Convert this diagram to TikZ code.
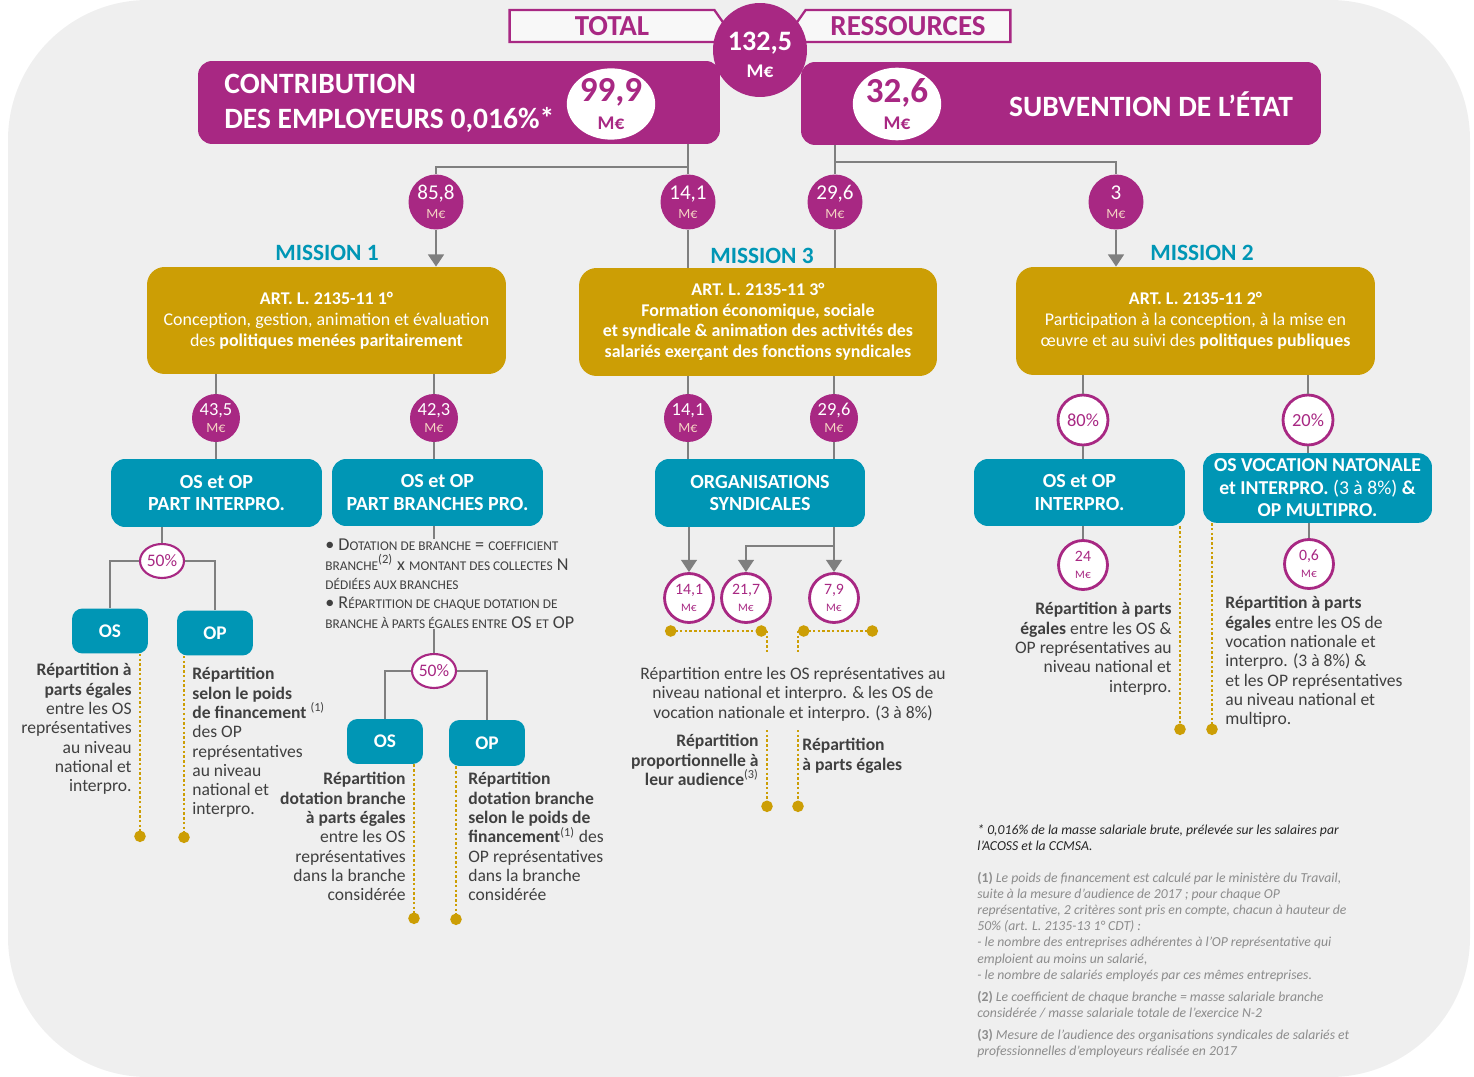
\documentclass[tikz,border=0pt]{standalone}
\usepackage{fontspec}
\setmainfont{Carlito}
\usetikzlibrary{arrows.meta,shapes.geometric,shapes.symbols}

\definecolor{violetM}{RGB}{168,40,131}
\definecolor{goldM}{RGB}{204,158,5}
\definecolor{tealM}{RGB}{0,150,181}
\definecolor{lineG}{RGB}{127,127,127}
\definecolor{textG}{RGB}{64,64,64}
\definecolor{noteG}{RGB}{140,140,140}
\definecolor{noteD}{RGB}{38,38,38}
\definecolor{peachM}{RGB}{245,212,195}
\definecolor{bgG}{RGB}{239,239,239}

\newcommand{\mef}[1]{#1\\{\color{peachM}\fontsize{8}{8}\selectfont M€}}
\newcommand{\mer}[1]{#1\\{\fontsize{6.5}{6.5}\selectfont M€}}
\newcommand{\sct}[1]{{\fontsize{7.6}{11}\selectfont\MakeUppercase{#1}}}

\begin{document}
\begin{tikzpicture}[x=0.02cm, y=-0.02cm,
  conn/.style={draw=lineG, line width=1.3pt},
  arr/.style={conn, -{Triangle[width=9pt,length=7pt]}},
  dotl/.style={draw=goldM, line width=1.5pt, dash pattern=on 1.4pt off 1.3pt},
  dotend/.style={dotl, -{Circle[length=6.5pt]}},
  dotboth/.style={dotl, {Circle[length=6.5pt]}-{Circle[length=6.5pt]}},
  signalbox/.style={signal, draw=violetM, line width=1.3pt, fill=white!55!bgG, text=violetM,
    font=\bfseries\fontsize{16.5}{18}\selectfont, minimum width=4.32cm, minimum height=0.64cm,
    signal pointer angle=110, inner sep=0pt},
  purplebox/.style={fill=violetM, rounded corners=8pt, minimum height=1.66cm},
  headtxt/.style={text=white, font=\bfseries\fontsize{16.8}{19.8}\selectfont, align=left, inner sep=0pt},
  whiteoval/.style={ellipse, fill=white, text=violetM, minimum width=1.58cm, minimum height=1.3cm,
    inner sep=0pt, align=center, font=\bfseries\fontsize{20}{15.5}\selectfont},
  bigcirc/.style={circle, fill=violetM, minimum size=1.88cm, inner sep=0pt},
  bigtxt/.style={text=white, inner sep=0pt, align=center, font=\bfseries\fontsize{16}{15}\selectfont},
  mission/.style={text=tealM, font=\bfseries\fontsize{13.3}{15}\selectfont},
  goldbox/.style={fill=goldM, rounded corners=10pt, text=white, align=center, minimum width=7.18cm,
    minimum height=2.14cm, font=\fontsize{10.2}{11.9}\selectfont},
  tealbox/.style={fill=tealM, rounded corners=8pt, text=white, align=center, minimum width=4.22cm,
    minimum height=1.36cm, font=\bfseries\fontsize{11.4}{12.6}\selectfont},
  smallbox/.style={fill=tealM, rounded corners=6pt, text=white, minimum width=1.52cm,
    minimum height=0.9cm, font=\bfseries\fontsize{11}{12}\selectfont},
  amount/.style={circle, fill=violetM, text=white, minimum size=1.1cm, inner sep=0pt,
    align=center, font=\fontsize{12}{11}\selectfont},
  amountS/.style={amount, minimum size=0.96cm, font=\fontsize{10.5}{10}\selectfont},
  ring/.style={circle, draw=violetM, line width=1.6pt, fill=white, text=violetM, minimum size=0.98cm,
    inner sep=0pt, align=center, font=\fontsize{9}{9.5}\selectfont},
  pct/.style={ellipse, draw=violetM, line width=1.2pt, fill=white, text=violetM, minimum width=0.88cm,
    minimum height=0.68cm, inner sep=0pt, font=\fontsize{10}{10}\selectfont},
  desc/.style={text=textG, inner sep=0pt, font=\fontsize{10}{11}\selectfont},
  note/.style={text=noteG, inner sep=0pt, align=left, font=\itshape\fontsize{7.8}{9.2}\selectfont}]

\useasboundingbox (0,0) rectangle (1474,1077);
\fill[bgG, rounded corners=2.8cm] (8,0) rectangle (1470,1077);

% ressources
\node[signalbox, signal to=east] (total) at (612,26) {TOTAL};
\node[signalbox, signal to=west] (ress) at (908,26) {RESSOURCES};
\node[purplebox, minimum width=10.44cm] (emp) at (459,102.5) {};
\node[purplebox, minimum width=10.4cm] (subv) at (1061,103.5) {};
\node[headtxt, anchor=west] (empT) at (224,103) {CONTRIBUTION\\DES EMPLOYEURS 0,016\%*};
\node[headtxt] (subT) at (1151,104) {SUBVENTION DE L’ÉTAT};
\node[whiteoval] (v999) at (611,104) {99,9\\{\fontsize{11}{11}\selectfont M€}};
\node[whiteoval] (v326) at (897,104) {32,6\\{\fontsize{11}{11}\selectfont M€}};
\node[bigcirc] (tot) at (760,50) {};
\node[bigtxt] (totT) at (760,55) {132,5\\{\fontsize{11}{11}\selectfont M€}};

% missions
\node[amount] (c858) at (436,202) {\mef{85,8}};
\node[amount] (c141a) at (688,202) {\mef{14,1}};
\node[amount] (c296a) at (835,202) {\mef{29,6}};
\node[amount] (c3) at (1116,202) {\mef{3}};
\node[mission] (lab1) at (327,253) {MISSION 1};
\node[mission] (lab3) at (762,256) {MISSION 3};
\node[mission] (lab2) at (1202,253) {MISSION 2};
\node[goldbox] (m1) at (326.5,320.5) {\textbf{ART. L. 2135-11 1°}\\Conception, gestion, animation et évaluation\\des \textbf{politiques menées paritairement}};
\node[goldbox, minimum width=7.16cm, minimum height=2.16cm, font=\bfseries\fontsize{10.2}{11.7}\selectfont] (m3) at (758,322) {ART. L. 2135-11 3°\\Formation économique, sociale\\et syndicale \& animation des activités des\\salariés exerçant des fonctions syndicales};
\node[goldbox, minimum height=2.16cm] (m2) at (1195.5,321) {\textbf{ART. L. 2135-11 2°}\\Participation à la conception, à la mise en\\œuvre et au suivi des \textbf{politiques publiques}};

\coordinate (jL) at (688,167);
\coordinate (jR) at (835,162);
\draw[conn] (emp.south -| jL) -- (jL) -| (c858);
\draw[conn] (jL) -- (c141a);
\draw[arr] (c858) -- (m1.north -| c858);
\draw[conn] (c141a) -- (m3.north -| c141a);
\draw[conn] (subv.south -| jR) -- (jR) -| (c3);
\draw[conn] (jR) -- (c296a);
\draw[conn] (c296a) -- (m3.north -| c296a);
\draw[arr] (c3) -- (m2.north -| c3);

% beneficiaires
\node[amountS] (c435) at (216,418) {\mef{43,5}};
\node[amountS] (c423) at (434,418) {\mef{42,3}};
\node[amountS] (c141b) at (688,418) {\mef{14,1}};
\node[amountS] (c296b) at (834,418) {\mef{29,6}};
\node[ring, minimum size=1cm, font=\fontsize{10.5}{10.5}\selectfont] (p80) at (1083,420) {80\%};
\node[ring, minimum size=1cm, font=\fontsize{10.5}{10.5}\selectfont] (p20) at (1308,420) {20\%};
\node[tealbox] (tInter) at (216.5,493) {OS et OP\\PART INTERPRO.};
\node[tealbox, minimum height=1.34cm] (tBranch) at (437.5,492.5) {OS et OP\\PART BRANCHES PRO.};
\node[tealbox, minimum width=4.2cm] (tOrg) at (760,493) {ORGANISATIONS\\SYNDICALES};
\node[tealbox, minimum height=1.34cm] (tInter2) at (1079.5,492.5) {OS et OP\\INTERPRO.};
\node[tealbox, minimum width=4.58cm, font=\bfseries\fontsize{11.2}{12.8}\selectfont] (tVoc) at (1317.5,488) {OS VOCATION NATONALE\\et INTERPRO. {\mdseries (3 à 8\%)} \&\\OP MULTIPRO.};

\draw[conn] (m1.south -| c435) -- (c435) -- (tInter.north -| c435);
\draw[conn] (m1.south -| c423) -- (c423) -- (tBranch.north -| c423);
\draw[conn] (m3.south -| c141b) -- (c141b) -- (tOrg.north -| c141b);
\draw[conn] (m3.south -| c296b) -- (c296b) -- (tOrg.north -| c296b);
\draw[conn] (m2.south -| p80) -- (p80) -- (tInter2.north -| p80);
\draw[conn] (m2.south -| p20) -- (p20) -- (tVoc.north -| p20);

% part interpro
\node[pct] (e50a) at (162,561) {50\%};
\node[smallbox] (osA) at (110,631) {OS};
\node[smallbox] (opA) at (215,633) {OP};
\draw[conn] (tInter.south -| e50a) -- (e50a);
\draw[conn] (osA.north) |- (e50a.west);
\draw[conn] (opA.north) |- (e50a.east);
\node[desc, anchor=north east, align=right] (txA) at (132,663) {\textbf{Répartition à}\\\textbf{parts égales}\\entre les OS\\représentatives\\au niveau\\national et\\interpro.};
\node[desc, anchor=north west, align=left] (txB) at (192,667) {\textbf{Répartition}\\\textbf{selon le poids}\\\textbf{de financement} \textsuperscript{(1)}\\des OP\\représentatives\\au niveau\\national et\\interpro.};
\coordinate (dA) at (140,842);
\coordinate (dB) at (184,843);
\draw[dotend] (osA.south -| dA) -- (dA);
\draw[dotend] (opA.south -| dB) -- (dB);

% part branches
\node[desc, anchor=north west, align=left, font=\fontsize{10.3}{11}\selectfont] (bul) at (325,539) {\textbullet\ D\sct{otation de branche} = \sct{coefficient}\\\sct{branche}\textsuperscript{(2)} x \sct{montant des collectes} N\\\sct{dédiées aux branches}\\\textbullet\ R\sct{épartition de chaque dotation de}\\\sct{branche à parts égales entre} OS \sct{et} OP};
\node[pct] (e50b) at (434,671) {50\%};
\node[smallbox] (osB) at (385,741.5) {OS};
\node[smallbox, minimum height=0.92cm] (opB) at (487,743) {OP};
\draw[conn] (tBranch.south -| e50b) -- (bul.north -| e50b);
\draw[conn] (bul.south -| e50b) -- (e50b);
\draw[conn] (osB.north) |- (e50b.west);
\draw[conn] (opB.north) |- (e50b.east);
\node[desc, anchor=north east, align=right] (txC) at (406,772) {\textbf{Répartition}\\\textbf{dotation branche}\\\textbf{à parts égales}\\entre les OS\\représentatives\\dans la branche\\considérée};
\node[desc, anchor=north west, align=left] (txD) at (468,772) {\textbf{Répartition}\\\textbf{dotation branche}\\\textbf{selon le poids de}\\\textbf{financement}\textsuperscript{(1)} des\\OP représentatives\\dans la branche\\considérée};
\coordinate (dC) at (414,924);
\coordinate (dD) at (456,925);
\draw[dotend] (osB.south -| dC) -- (dC);
\draw[dotend] (opB.south -| dD) -- (dD);

% organisations syndicales
\node[ring] (r141) at (689,598) {\mer{14,1}};
\node[ring] (r217) at (746,598) {\mer{21,7}};
\node[ring] (r79) at (834,598) {\mer{7,9}};
\coordinate (jS) at (834,546);
\draw[arr] (tOrg.south -| r141) -- (r141);
\draw[arr] (tOrg.south -| r79) -- (r79);
\draw[arr] (jS) -| (r217);
\coordinate (dh1) at (665,631);
\coordinate (dh2) at (767,631);
\coordinate (dh3) at (798,631);
\coordinate (dh4) at (878,631);
\coordinate (dv2) at (767,652);
\coordinate (dv3) at (798,652);
\draw[dotboth] (dh1) -- (dh2);
\draw[dotboth] (dh3) -- (dh4);
\draw[dotl] (dh2) -- (dv2);
\draw[dotl] (dh3) -- (dv3);
\node[desc, anchor=north, align=center] (txE) at (793,667) {Répartition entre les OS représentatives au\\niveau national et interpro. \& les OS de\\vocation nationale et interpro. (3 à 8\%)};
\node[desc, anchor=north east, align=right] (txF) at (759,734) {\textbf{Répartition}\\\textbf{proportionnelle à}\\\textbf{leur audience}\textsuperscript{(3)}};
\node[desc, anchor=north west, align=left] (txG) at (802,738) {\textbf{Répartition}\\\textbf{à parts égales}};
\coordinate (dE1) at (767,730);
\coordinate (dE2) at (767,812);
\coordinate (dF1) at (798,730);
\coordinate (dF2) at (798,812);
\draw[dotend] (dE1) -- (dE2);
\draw[dotend] (dF1) -- (dF2);

% mission 2
\node[ring] (r24) at (1083,565) {\mer{24}};
\node[ring] (r06) at (1309,564) {\mer{0,6}};
\draw[conn] (tInter2.south -| r24) -- (r24);
\draw[conn] (tVoc.south -| r06) -- (r06);
\node[desc, anchor=north east, align=right] (txH) at (1172,602) {\textbf{Répartition à parts}\\\textbf{égales} entre les OS \&\\OP représentatives au\\niveau national et\\interpro.};
\node[desc, anchor=north west, align=left] (txI) at (1225,596) {\textbf{Répartition à parts}\\\textbf{égales} entre les OS de\\vocation nationale et\\interpro. (3 à 8\%) \&\\et les OP représentatives\\au niveau national et\\multipro.};
\coordinate (dR1) at (1180,735);
\coordinate (dR2) at (1212,735);
\draw[dotend] (tInter2.south -| dR1) -- (dR1);
\draw[dotend] (tVoc.south -| dR2) -- (dR2);

% notes
\node[note, anchor=north west] (notes) at (977,824) {{\color{noteD}* 0,016\% de la masse salariale brute, prélevée sur les salaires par}\\
{\color{noteD}l’ACOSS et la CCMSA.}\\[9pt]
{\upshape\bfseries (1)} Le poids de financement est calculé par le ministère du Travail,\\
suite à la mesure d’audience de 2017 ; pour chaque OP\\
représentative, 2 critères sont pris en compte, chacun à hauteur de\\
50\% (art. L. 2135-13 1° CDT) :\\
- le nombre des entreprises adhérentes à l’OP représentative qui\\
emploient au moins un salarié,\\
- le nombre de salariés employés par ces mêmes entreprises.\\[3.4pt]
{\upshape\bfseries (2)} Le coefficient de chaque branche = masse salariale branche\\
considérée / masse salariale totale de l’exercice N-2\\[3.4pt]
{\upshape\bfseries (3)} Mesure de l’audience des organisations syndicales de salariés et\\
professionnelles d’employeurs réalisée en 2017};
\end{tikzpicture}
\end{document}
